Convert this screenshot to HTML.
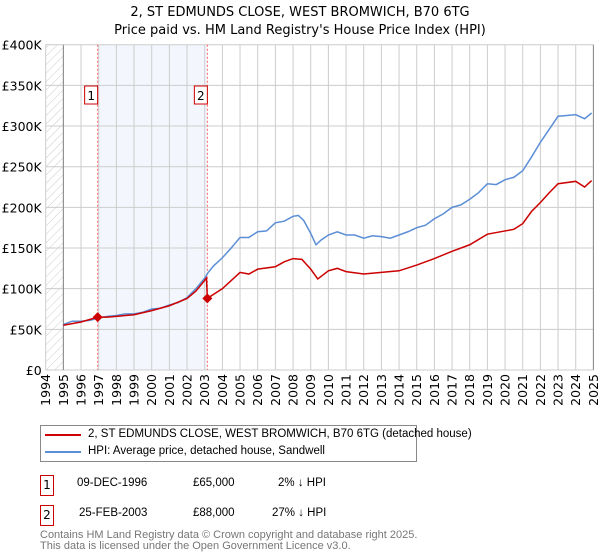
<!DOCTYPE html>
<html><head><meta charset="utf-8"><style>
body{margin:0;background:#fff;font-family:"DejaVu Sans","Liberation Sans",sans-serif;}
#wrap{position:relative;width:600px;height:560px;overflow:hidden}
.t{position:absolute;white-space:nowrap;color:#000;font-family:"Liberation Sans",sans-serif}
.box{position:absolute;border:1px solid #c00;width:12px;height:19px;font-size:12px;text-align:center;line-height:19px}
</style></head><body><div id="wrap">
<svg id="chart" width="600" height="420" style="position:absolute;left:0;top:0">
<defs><pattern id="hatch" width="6" height="6" patternUnits="userSpaceOnUse" patternTransform="rotate(45)"><line x1="0" y1="0" x2="0" y2="6" stroke="#ccc" stroke-width="1"/></pattern></defs>
<text x="300" y="16" text-anchor="middle" font-size="13">2, ST EDMUNDS CLOSE, WEST BROMWICH, B70 6TG</text>
<text x="300" y="34" text-anchor="middle" font-size="13">Price paid vs. HM Land Registry's House Price Index (HPI)</text>
<g id="g"></g>
</svg>
<div style="position:absolute;left:40px;top:425px;width:375px;height:35px;border:1px solid #888">
<div style="position:absolute;left:4px;top:8px;width:36px;height:2px;background:#c00"></div>
<div class="t" style="left:47px;top:2px;font-size:11.5px">2, ST EDMUNDS CLOSE, WEST BROMWICH, B70 6TG (detached house)</div>
<div style="position:absolute;left:4px;top:25px;width:36px;height:2px;background:#5b8ed6"></div>
<div class="t" style="left:47px;top:19px;font-size:11.5px">HPI: Average price, detached house, Sandwell</div>
</div>
<div class="box" style="left:40px;top:475px">1</div>
<div class="t" style="left:77px;top:477px;font-size:11.5px">09-DEC-1996</div>
<div class="t" style="left:193px;top:477px;font-size:11.5px">£65,000</div>
<div class="t" style="left:278px;top:477px;font-size:11.5px">2% ↓ HPI</div>
<div class="box" style="left:40px;top:505px">2</div>
<div class="t" style="left:79px;top:507px;font-size:11.5px">25-FEB-2003</div>
<div class="t" style="left:193px;top:507px;font-size:11.5px">£88,000</div>
<div class="t" style="left:272px;top:507px;font-size:11.5px">27% ↓ HPI</div>
<div class="t" style="left:40px;top:530px;font-size:11px;color:#777;line-height:11px">Contains HM Land Registry data © Crown copyright and database right 2025.<br>This data is licensed under the Open Government Licence v3.0.</div>
</div>
<script>
const yearTicks=[1994,1995,1996,1997,1998,1999,2000,2001,2002,2003,2004,2005,2006,2007,2008,2009,2010,2011,2012,2013,2014,2015,2016,2017,2018,2019,2020,2021,2022,2023,2024,2025];
const priceTicks=[0,50,100,150,200,250,300,350,400];
const priceLabels=["£0","£50K","£100K","£150K","£200K","£250K","£300K","£350K","£400K"];
const hpiT=[1995,1995.5,1996,1996.5,1997,1997.5,1998,1998.5,1999,1999.5,2000,2000.5,2001,2001.5,2002,2002.5,2003,2003.2,2003.5,2004,2004.5,2005,2005.5,2006,2006.5,2007,2007.5,2008,2008.3,2008.6,2009,2009.3,2009.6,2010,2010.5,2011,2011.5,2012,2012.5,2013,2013.5,2014,2014.5,2015,2015.5,2016,2016.5,2017,2017.5,2018,2018.5,2019,2019.5,2020,2020.5,2021,2021.5,2022,2022.5,2023,2023.5,2024,2024.5,2024.9];
const hpiV=[56,60,60,61,64,66,67,69,69,71,75,76,80,83,89,100,113,120,128,138,150,163,163,170,171,181,183,189,190,184,168,154,160,166,170,166,166,162,165,164,162,166,170,175,178,186,192,200,203,210,218,229,228,234,237,245,262,280,296,312,313,314,309,316];
const redT=[1995,1996,1996.94,1997.5,1998,1999,2000,2001,2002,2002.5,2003.1,2003.15,2003.5,2004,2004.5,2005,2005.5,2006,2007,2007.5,2008,2008.5,2009,2009.4,2010,2010.5,2011,2012,2013,2014,2015,2016,2017,2018,2019,2020,2020.5,2021,2021.5,2022,2022.5,2023,2024,2024.5,2024.9];
const redV=[55,59,65,65,66,68,73,79,88,97,113,88,93,100,110,120,118,124,127,133,137,136,124,112,122,125,121,118,120,122,129,137,146,154,167,171,173,180,195,206,218,229,232,225,233];
const saleT=[1996.94,2003.15];
const saleV=[65,88];
const saleLabels=["1","2"];
const X0=45.7,X1=593.4,Y0=370,Y1=44.7;
const x=t=>X0+(t-1994)/(2025-1994)*(X1-X0);
const y=v=>Y0-v/400*(Y0-Y1);
const NS="http://www.w3.org/2000/svg",g=document.getElementById('g');
function mk(tag,at){const e=document.createElementNS(NS,tag);for(const k in at)e.setAttribute(k,at[k]);g.appendChild(e);return e;}
let e;
e=mk('rect',{x:X0,y:Y1,width:x(1995)-X0,height:Y0-Y1,fill:'url(#hatch)'});


e=mk('rect',{x:x(saleT[0]),y:Y1,width:x(saleT[1])-x(saleT[0]),height:Y0-Y1,fill:'#eef3fc',opacity:0.7});


yearTicks.forEach(t=>{e=mk('line',{x1:x(t),x2:x(t),y1:Y1,y2:Y0,stroke:'#ccc'});


e=mk('text',{x:0,y:0,'font-size':12.5,transform:`translate(${x(t)+4.5},${Y0+4}) rotate(-90)`,'text-anchor':'end'});e.textContent=t;

});
priceTicks.forEach((v,i)=>{e=mk('line',{x1:X0,x2:X1,y1:y(v),y2:y(v),stroke:'#ccc'});


e=mk('text',{x:X0-4,y:y(v)+5,'font-size':12.5,'text-anchor':'end'});e.textContent=priceLabels[i];

});
e=mk('line',{x1:x(1995),x2:x(1995),y1:Y1,y2:Y0,stroke:'#888'});


e=mk('line',{x1:X1,x2:X1,y1:Y1,y2:Y0,stroke:'#888'});


saleT.forEach((t,i)=>{e=mk('line',{x1:x(t),x2:x(t),y1:Y1,y2:Y0,stroke:'#f66','stroke-dasharray':'2,2'});


e=mk('rect',{x:x(t)-13,y:86,width:13,height:18,fill:'#fff',stroke:'#c00'});


e=mk('text',{x:x(t)-6.5,y:100,'font-size':12,'text-anchor':'middle'});e.textContent=saleLabels[i];

});
e=mk('polyline',{points:hpiT.map((t,i)=>x(t)+','+y(hpiV[i])).join(' '),fill:'none',stroke:'#5b8ed6','stroke-width':1.5});


e=mk('polyline',{points:redT.map((t,i)=>x(t)+','+y(redV[i])).join(' '),fill:'none',stroke:'#c00','stroke-width':1.5});


saleT.forEach((t,i)=>{e=mk('path',{d:`M${x(t)},${y(saleV[i])-5}l5,5l-5,5l-5,-5z`,fill:'#c00'});

});
</script></body></html>
